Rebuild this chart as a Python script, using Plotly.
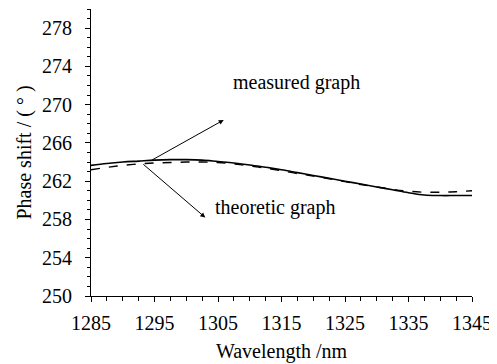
import plotly.graph_objects as go

wavelength = [1285, 1287.5, 1290, 1292.5, 1295, 1297.5, 1300, 1302.5, 1305, 1307.5,
              1310, 1312.5, 1315, 1317.5, 1320, 1322.5, 1325, 1327.5, 1330, 1332.5,
              1335, 1337.5, 1340, 1342.5, 1345]
measured = [263.65, 263.85, 264.0, 264.1, 264.2, 264.25, 264.25, 264.2, 264.05, 263.9,
            263.7, 263.45, 263.2, 262.9, 262.6, 262.3, 262.0, 261.7, 261.4, 261.1,
            260.8, 260.55, 260.5, 260.5, 260.5]
theoretic = [263.2, 263.45, 263.65, 263.8, 263.9, 263.95, 264.0, 264.0, 263.95, 263.8,
             263.6, 263.35, 263.1, 262.8, 262.55, 262.25, 261.95, 261.65, 261.4, 261.15,
             260.95, 260.85, 260.85, 260.9, 261.0]
x_ticks = [1285, 1295, 1305, 1315, 1325, 1335, 1345]
y_ticks = [250, 254, 258, 262, 266, 270, 274, 278]

FONT = "Liberation Serif, Times New Roman, DejaVu Serif, serif"

fig = go.Figure()
fig.add_trace(go.Scatter(x=wavelength, y=measured, mode="lines", name="measured graph",
                         line=dict(color="black", width=1.6, shape="spline")))
fig.add_trace(go.Scatter(x=wavelength, y=theoretic, mode="lines", name="theoretic graph",
                         line=dict(color="black", width=1.4, dash="dash", shape="spline")))

# arrows
fig.add_annotation(x=1305.9, y=268.4, ax=1294.3, ay=264.1, xref="x", yref="y",
                   axref="x", ayref="y", showarrow=True, arrowhead=2, arrowsize=1,
                   arrowwidth=1, arrowcolor="black", text="")
fig.add_annotation(x=1303.0, y=258.2, ax=1293.0, ay=263.9, xref="x", yref="y",
                   axref="x", ayref="y", showarrow=True, arrowhead=2, arrowsize=1,
                   arrowwidth=1, arrowcolor="black", text="")
fig.add_annotation(x=1317.3, y=272.3, text="measured graph", showarrow=False,
                   font=dict(family=FONT, size=20, color="black"))
fig.add_annotation(x=1314.1, y=259.2, text="theoretic graph", showarrow=False,
                   font=dict(family=FONT, size=20, color="black"))

fig.update_layout(
    width=489, height=356,
    margin=dict(l=83, r=25, t=1, b=68),
    paper_bgcolor="white", plot_bgcolor="white",
    showlegend=False,
    font=dict(family=FONT, size=20, color="black"),
)
fig.update_xaxes(
    range=[1285, 1345], tickvals=x_ticks, ticktext=[str(v) for v in x_ticks],
    showgrid=False, zeroline=False, showline=True, linecolor="black", linewidth=1,
    ticks="outside", ticklen=5, tickcolor="black", tickwidth=1, ticklabelstandoff=4,
    minor=dict(dtick=2.5, ticks="outside", ticklen=4, tickcolor="black", tickwidth=1),
    tickfont=dict(family=FONT, size=20),
    title=dict(text="Wavelength /nm", font=dict(family=FONT, size=20), standoff=10),
)
fig.update_yaxes(
    range=[250, 280], tickvals=y_ticks, ticktext=[str(v) for v in y_ticks],
    showgrid=False, zeroline=False, showline=True, linecolor="black", linewidth=1,
    ticks="outside", ticklen=5, tickcolor="black", tickwidth=1, ticklabelstandoff=9,
    minor=dict(dtick=1, tick0=250, ticks="outside", ticklen=3, tickcolor="black", tickwidth=1),
    tickfont=dict(family=FONT, size=20),
    title=dict(text="Phase shift / ( ° )", font=dict(family=FONT, size=20), standoff=5),
)

fig.write_html("out.html")
